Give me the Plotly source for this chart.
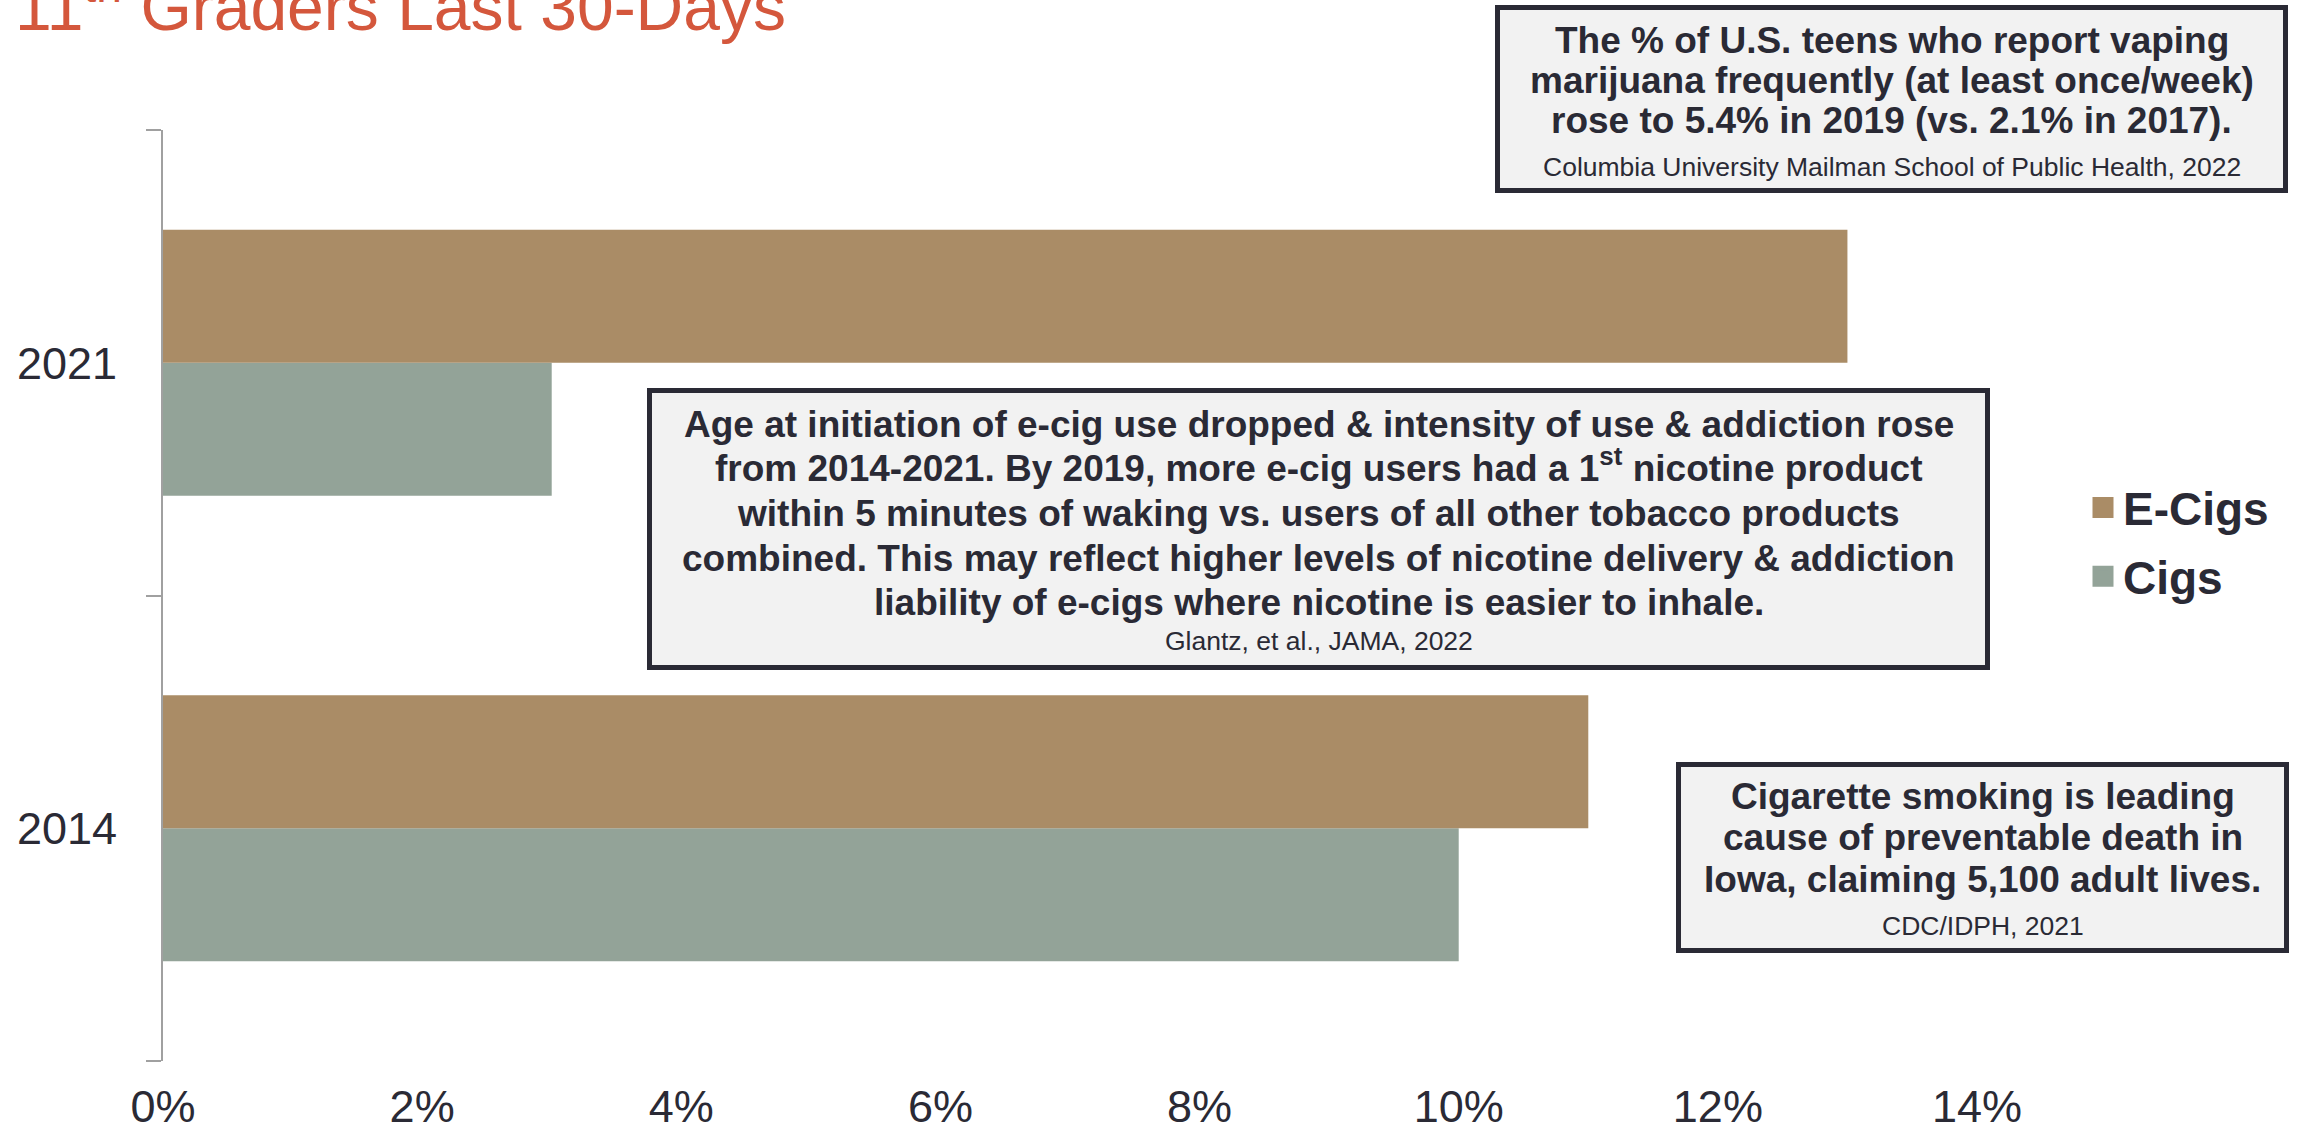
import plotly.graph_objects as go

# ---------------- data ----------------
years = ["2014", "2021"]
ecigs = [11, 13]
cigs = [10, 3]
x_ticks = [0, 2, 4, 6, 8, 10, 12, 14]
x_tick_labels = [f"{v}%" for v in x_ticks]
series_names = ["E-Cigs", "Cigs"]

title_text = "11<sup>th</sup> Graders Last 30-Days"

box1_lines = [
    "The % of U.S. teens who report vaping",
    "marijuana frequently (at least once/week)",
    "rose to 5.4% in 2019 (vs. 2.1% in 2017).",
]
box1_cite = "Columbia University Mailman School of Public Health, 2022"

box2_lines = [
    "Age at initiation of e-cig use dropped & intensity of use & addiction rose",
    "from 2014-2021. By 2019, more e-cig users had a 1<sup>st</sup> nicotine product",
    "within 5 minutes of waking vs. users of all other tobacco products",
    "combined. This may reflect higher levels of nicotine delivery & addiction",
    "liability of e-cigs where nicotine is easier to inhale.",
]
box2_cite = "Glantz, et al., JAMA, 2022"

box3_lines = [
    "Cigarette smoking is leading",
    "cause of preventable death in",
    "Iowa, claiming 5,100 adult lives.",
]
box3_cite = "CDC/IDPH, 2021"

# ---------------- style ----------------
W, H = 2305, 1134
FONT = "Liberation Sans, Arial, sans-serif"
DARK = "#2A2A35"
C_ECIG = "#AA8C66"
C_CIG = "#93A398"
TITLE_C = "#D4573C"
BOX_FILL = "#F2F2F2"


def px(x):
    return x / W


def py(y):
    return 1 - y / H


fig = go.Figure()
# Cigs first so that E-Cigs sits above Cigs inside each year group
fig.add_trace(go.Bar(y=years, x=cigs, orientation="h", name=series_names[1],
                     marker=dict(color=C_CIG, line=dict(width=0)), showlegend=False))
fig.add_trace(go.Bar(y=years, x=ecigs, orientation="h", name=series_names[0],
                     marker=dict(color=C_ECIG, line=dict(width=0)), showlegend=False))

# legend-only entries (larger square swatches than the bar legend icon)
for name, col, grp, rank in [(series_names[0], C_ECIG, "a", 1), (series_names[1], C_CIG, "b", 2)]:
    fig.add_trace(go.Scatter(x=[None], y=[None], mode="markers", name=name,
                             marker=dict(symbol="square", size=16, color=col,
                                         line=dict(color=col, width=5)),
                             legendgroup=grp, legendrank=rank, hoverinfo="skip"))

annotations = []
shapes = []

TFS = 66
annotations.append(dict(text=title_text, xref="paper", yref="paper",
                        x=px(15), y=py(30 + 0.212 * TFS), xanchor="left", yanchor="bottom",
                        showarrow=False, borderpad=0, borderwidth=0,
                        font=dict(family=FONT, size=TFS, color=TITLE_C)))


def add_box(x0, y0, x1, y1, lines, baselines, cite, cite_base, fs=37, cfs=26.5):
    lw = 5
    shapes.append(dict(type="rect", xref="paper", yref="paper",
                       x0=px(x0 + lw / 2), x1=px(x1 - lw / 2),
                       y0=py(y1 - lw / 2), y1=py(y0 + lw / 2),
                       fillcolor=BOX_FILL, line=dict(color=DARK, width=lw), layer="above"))
    cx = (x0 + x1) / 2
    for t, b in zip(lines, baselines):
        annotations.append(dict(text=t, xref="paper", yref="paper", x=px(cx), y=py(b + 0.212 * fs),
                                xanchor="center", yanchor="bottom", showarrow=False,
                                borderpad=0, borderwidth=0,
                                font=dict(family=FONT, size=fs, color=DARK, weight="bold")))
    annotations.append(dict(text=cite, xref="paper", yref="paper", x=px(cx), y=py(cite_base + 0.212 * cfs),
                            xanchor="center", yanchor="bottom", showarrow=False,
                            borderpad=0, borderwidth=0,
                            font=dict(family=FONT, size=cfs, color=DARK)))


add_box(1495, 5, 2288, 193, box1_lines, [53, 93, 133], box1_cite, 176)
add_box(647, 388, 1990, 670, box2_lines, [437, 481, 526, 571, 615], box2_cite, 650)
add_box(1676, 762, 2289, 953, box3_lines, [809, 850, 892], box3_cite, 935)

fig.update_layout(
    width=W, height=H,
    margin=dict(l=0, r=0, t=0, b=0, autoexpand=False),
    paper_bgcolor="white", plot_bgcolor="white",
    barmode="group", bargap=0.4286, bargroupgap=0,
    font=dict(family=FONT, color=DARK),
    showlegend=True,
    legend=dict(x=px(2083), xanchor="left", y=py(542), yanchor="middle",
                traceorder="grouped", tracegroupgap=6, itemsizing="trace",
                font=dict(family=FONT, size=46, color=DARK, weight="bold"),
                bgcolor="rgba(0,0,0,0)", borderwidth=0, itemclick=False),
    xaxis=dict(domain=[px(163), px(1977)], range=[0, 14],
               tickmode="array", tickvals=x_ticks, ticktext=x_tick_labels,
               showgrid=False, zeroline=False, showline=False, automargin=False,
               ticks="", tickfont=dict(family=FONT, size=45, color=DARK),
               ticklabelstandoff=15, fixedrange=True),
    yaxis=dict(domain=[py(1061), py(130)], type="category", categoryarray=years,
               categoryorder="array", range=[-0.5, 1.5], automargin=False,
               showgrid=False, zeroline=False, showline=True, linecolor="#A0A0A0", linewidth=2,
               ticks="outside", ticklen=15, tickwidth=2, tickcolor="#A0A0A0", tickson="boundaries",
               tickfont=dict(family=FONT, size=45, color=DARK), ticklabelstandoff=35,
               fixedrange=True),
    annotations=annotations,
    shapes=shapes,
)

fig.write_html("out.html", config={"displayModeBar": False},
               post_script="document.body.style.margin='0px';")
